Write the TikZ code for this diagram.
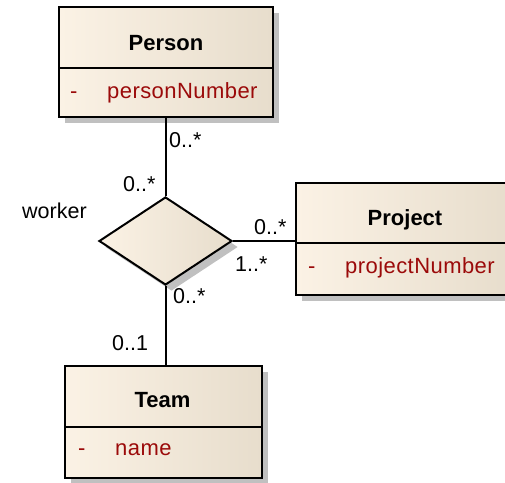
\documentclass[tikz,border=0pt]{standalone}
\usepackage{fontspec}
\setmainfont{Liberation Sans}
\usetikzlibrary{shapes.geometric,shadows}
\definecolor{umlleft}{RGB}{251,242,229}
\definecolor{umlright}{RGB}{231,221,204}
\definecolor{attrred}{RGB}{155,10,10}
\definecolor{shadowgray}{RGB}{192,192,192}
\tikzset{
  umlshadow/.style={drop shadow={shadow xshift=6pt, shadow yshift=-6pt, fill=shadowgray, opacity=1}},
  classbox/.style={draw=black, line width=2pt, left color=umlleft, right color=umlright,
    inner sep=0pt, umlshadow},
  relbox/.style={diamond, draw=black, line width=2pt, left color=umlleft, right color=umlright,
    inner sep=0pt, umlshadow},
  divider/.style={line width=2pt},
  conn/.style={line width=2pt},
  title/.style={font=\fontsize{22}{26}\selectfont\bfseries, anchor=base, inner sep=0pt},
  attr/.style={font=\fontsize{22}{26}\selectfont\addfontfeatures{LetterSpace=2}, text=attrred, anchor=base west, inner sep=0pt},
  mult/.style={font=\fontsize{21.5}{26}\selectfont, anchor=base west, inner sep=0pt},
}
\begin{document}
\begin{tikzpicture}[x=1pt, y=-1pt]
\useasboundingbox (0,0) rectangle (505,482);
\clip (0,0) rectangle (505,482);
\fill[white] (0,0) rectangle (505,482);

% classes
\node[classbox, minimum width=214pt, minimum height=110pt] (person) at (166,62) {};
\draw[divider] (person.west |- 0,68) -- (person.east |- 0,68);
\node[title] (personT) at (166,50) {Person};
\node[attr] (personD) at (70,98) {-};
\node[attr] (personA) at (107,98) {personNumber};

\node[classbox, minimum width=216pt, minimum height=112pt] (project) at (404,239) {};
\draw[divider] (project.west |- 0,243) -- (project.east |- 0,243);
\node[title] (projectT) at (405,225) {Project};
\node[attr] (projectD) at (308,273) {-};
\node[attr] (projectA) at (345,273) {projectNumber};

\node[classbox, minimum width=197pt, minimum height=112pt] (team) at (163.5,422) {};
\draw[divider] (team.west |- 0,427) -- (team.east |- 0,427);
\node[title] (teamT) at (162.5,407) {Team};
\node[attr] (teamD) at (78,455) {-};
\node[attr] (teamA) at (115,455) {name};

% n-ary association
\node[relbox, minimum width=133pt, minimum height=88pt] (rel) at (165.5,241) {};
\node[mult] (relname) at (22,218) {worker};

% connectors
\draw[conn] (rel.north |- person.south) -- (rel.north);
\draw[conn] (rel.east) -- (rel.east -| project.west);
\draw[conn] (rel.south) -- (rel.south |- team.north);

% multiplicities
\node[mult] (m1) at (169,147) {0..*};
\node[mult] (m2) at (123,191) {0..*};
\node[mult] (m3) at (254,234) {0..*};
\node[mult] (m4) at (235,271) {1..*};
\node[mult] (m5) at (173,303) {0..*};
\node[mult] (m6) at (112,350) {0..1};
\end{tikzpicture}
\end{document}
